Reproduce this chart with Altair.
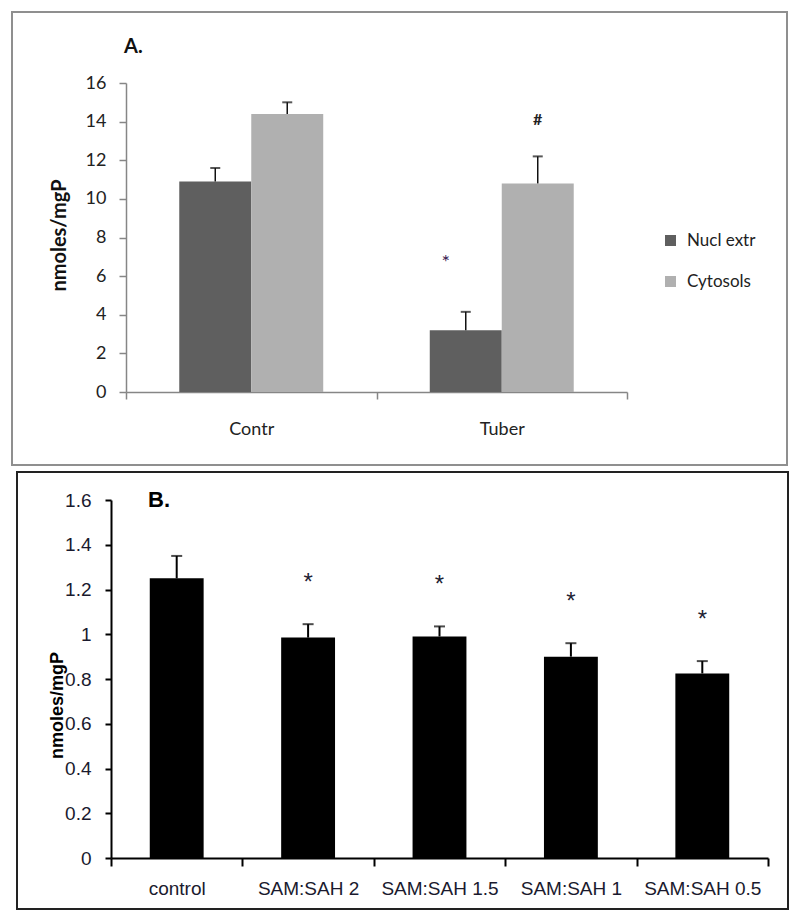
import altair as alt
import pandas as pd

# ---------------- Panel A data ----------------
a_groups = ["Contr", "Tuber"]
a_series = ["Nucl extr", "Cytosols"]
a_nucl_mean = [10.9, 3.2]
a_nucl_err = [0.7, 0.95]
a_cyto_mean = [14.4, 10.8]
a_cyto_err = [0.6, 1.4]
a_colors = ["#5f5f5f", "#b0b0b0"]
a_yticks = [0, 2, 4, 6, 8, 10, 12, 14, 16]
a_sig_group = ["Tuber", "Tuber"]
a_sig_series = ["Nucl extr", "Cytosols"]
a_sig_text = ["*", "#"]

# ---------------- Panel B data ----------------
b_groups = ["control", "SAM:SAH 2", "SAM:SAH 1.5", "SAM:SAH 1", "SAM:SAH 0.5"]
b_mean = [1.25, 0.985, 0.99, 0.90, 0.825]
b_err = [0.10, 0.06, 0.045, 0.06, 0.055]
b_sig = ["", "*", "*", "*", "*"]
b_yticks = [0, 0.2, 0.4, 0.6, 0.8, 1.0, 1.2, 1.4, 1.6]

rowsA = []
for i, g in enumerate(a_groups):
    rowsA.append(dict(group=g, series=a_series[0], mean=a_nucl_mean[i], err=a_nucl_err[i]))
    rowsA.append(dict(group=g, series=a_series[1], mean=a_cyto_mean[i], err=a_cyto_err[i]))
dfA = pd.DataFrame(rowsA)
dfA["top"] = dfA["mean"] + dfA["err"]

sigA = pd.DataFrame({"group": a_sig_group, "series": a_sig_series, "txt": a_sig_text})
sigA = sigA.merge(dfA, on=["group", "series"])

dfB = pd.DataFrame({"group": b_groups, "mean": b_mean, "err": b_err, "sig": b_sig})
dfB["top"] = dfB["mean"] + dfB["err"]

frame = pd.DataFrame({"k": [0]})

# ---------------- Panel A chart ----------------
A_FONT = "Lato"
A_TXT = "#222222"
A_AX = "#868686"

axA_x = alt.Axis(title=None, labelAngle=0, tickBand="extent",
                 domainColor=A_AX, tickColor=A_AX, tickSize=7,
                 domainWidth=1.5, tickWidth=1.5,
                 labelFont=A_FONT, labelFontSize=18, labelColor=A_TXT,
                 labelPadding=30, labelBaseline="middle")
axA_y = alt.Axis(values=a_yticks, grid=False, title="nmoles/mgP", offset=-15,
                 labelOverlap=False,
                 titleFont=A_FONT, titleFontSize=20, titleFontWeight="bold",
                 titleColor="#111111", titleX=-67, titleY=152,
                 titleAngle=270, titleBaseline="middle", titleAlign="center",
                 labelFont=A_FONT, labelFontSize=18, labelColor=A_TXT,
                 labelPadding=13, tickSize=7, tickColor=A_AX,
                 domainColor=A_AX, domainWidth=1.5, tickWidth=1.5)
xA_scale = alt.Scale(paddingInner=0, paddingOuter=0, range=[15, 516])
yA_scale = alt.Scale(domain=[0, 16], nice=False)
xoA_scale = alt.Scale(paddingInner=0, paddingOuter=0.74)


def xA():
    return alt.X("group:N", sort=a_groups, scale=xA_scale, axis=axA_x)


def xoA():
    return alt.XOffset("series:N", sort=a_series, scale=xoA_scale)


barsA = alt.Chart(dfA).mark_bar().encode(
    x=xA(), xOffset=xoA(),
    y=alt.Y("mean:Q", scale=yA_scale, axis=axA_y),
    color=alt.Color("series:N", sort=a_series,
                    scale=alt.Scale(domain=a_series, range=a_colors),
                    legend=alt.Legend(title=None, orient="none", legendX=551, legendY=149,
                                      symbolType="square", symbolSize=121,
                                      symbolStrokeWidth=0, labelFont=A_FONT,
                                      labelFontSize=17, labelColor=A_TXT,
                                      labelOffset=8, rowPadding=23, padding=0)),
)

errA = alt.Chart(dfA).mark_rule(color="#111111", strokeWidth=1.5).encode(
    x=xA(), xOffset=xoA(),
    y=alt.Y("mean:Q", scale=yA_scale, axis=axA_y), y2="top:Q")
capA = alt.Chart(dfA).mark_tick(color="#111111", thickness=2, size=10, orient="horizontal").encode(
    x=xA(), xOffset=xoA(),
    y=alt.Y("top:Q", scale=yA_scale, axis=axA_y))

starA = alt.Chart(sigA).transform_filter(alt.datum.txt == "*").mark_text(
    font=A_FONT, fontSize=20, color="#3a2050", dx=-20, dy=-43, baseline="alphabetic").encode(
    x=xA(), xOffset=xoA(),
    y=alt.Y("top:Q", scale=yA_scale, axis=axA_y), text="txt:N")
hashA = alt.Chart(sigA).transform_filter(alt.datum.txt == "#").mark_text(
    font=A_FONT, fontSize=16, fontWeight="bold", color="#222222", dy=-31, baseline="alphabetic").encode(
    x=xA(), xOffset=xoA(),
    y=alt.Y("top:Q", scale=yA_scale, axis=axA_y), text="txt:N")

labelA = alt.Chart(frame).mark_text(text="A.", font=A_FONT, fontSize=20, fontWeight="bold",
                                    color="#111111", align="left", baseline="middle").encode(
    x=alt.value(13), y=alt.value(-36))

borderA = alt.Chart(frame).mark_rect(fillOpacity=0, stroke="#8f8f8f", strokeWidth=2).encode(
    x=alt.value(-99), x2=alt.value(676), y=alt.value(-71), y2=alt.value(382))

chartA = alt.layer(borderA, barsA, errA, capA, starA, hashA, labelA).properties(
    width=516, height=309)

# ---------------- Panel B chart ----------------
B_FONT = "Liberation Sans"
B_TXT = "#1a1a2e"

axB_x = alt.Axis(title=None, labelAngle=0, tickBand="extent",
                 domainColor="#000000", tickColor="#000000", tickSize=8,
                 domainWidth=2, tickWidth=2,
                 labelFont=B_FONT, labelFontSize=19, labelColor=B_TXT,
                 labelPadding=22, labelBaseline="middle")
axB_y = alt.Axis(values=b_yticks, format=".1~f", grid=False, title="nmoles/mgP",
                 labelOverlap=False,
                 titleFont=B_FONT, titleFontSize=18, titleFontWeight="bold",
                 titleColor="#000000", titleX=-54, titleY=205,
                 titleAngle=270, titleBaseline="middle", titleAlign="center",
                 labelFont=B_FONT, labelFontSize=19, labelColor=B_TXT,
                 labelPadding=14, tickSize=6, tickColor="#000000",
                 domainColor="#000000", domainWidth=2, tickWidth=2)
xB_scale = alt.Scale(paddingInner=0, paddingOuter=0)
yB_scale = alt.Scale(domain=[0, 1.6], nice=False)


def xB():
    return alt.X("group:N", sort=b_groups, scale=xB_scale, axis=axB_x)


barsB = alt.Chart(dfB).mark_bar(color="#000000", width=alt.RelativeBandSize(0.41)).encode(
    x=xB(), y=alt.Y("mean:Q", scale=yB_scale, axis=axB_y))
errB = alt.Chart(dfB).mark_rule(color="#000000", strokeWidth=2).encode(
    x=xB(), y=alt.Y("mean:Q", scale=yB_scale, axis=axB_y), y2="top:Q")
capB = alt.Chart(dfB).mark_tick(color="#000000", thickness=2, size=11, orient="horizontal").encode(
    x=xB(), y=alt.Y("top:Q", scale=yB_scale, axis=axB_y))
starB = alt.Chart(dfB).mark_text(font=B_FONT, fontSize=24, color="#222233",
                                 dy=-34, baseline="alphabetic").encode(
    x=xB(), y=alt.Y("top:Q", scale=yB_scale, axis=axB_y), text="sig:N")

labelB = alt.Chart(frame).mark_text(text="B.", font=B_FONT, fontSize=22, fontWeight="bold",
                                    color="#000000", align="left", baseline="middle").encode(
    x=alt.value(37), y=alt.value(0))

borderB = alt.Chart(frame).mark_rect(fillOpacity=0, stroke="#222222", strokeWidth=2).encode(
    x=alt.value(-94), x2=alt.value(677), y=alt.value(-28), y2=alt.value(409))

chartB = alt.layer(borderB, barsB, errB, capB, starB, labelB).properties(
    width=657, height=358)

chart = alt.vconcat(chartA, chartB, spacing=5).properties(
    padding={"left": 3, "top": 3, "right": 0, "bottom": 0}
).configure_view(strokeWidth=0)

chart.save("out.html", embed_options={"renderer": "svg", "actions": False})
